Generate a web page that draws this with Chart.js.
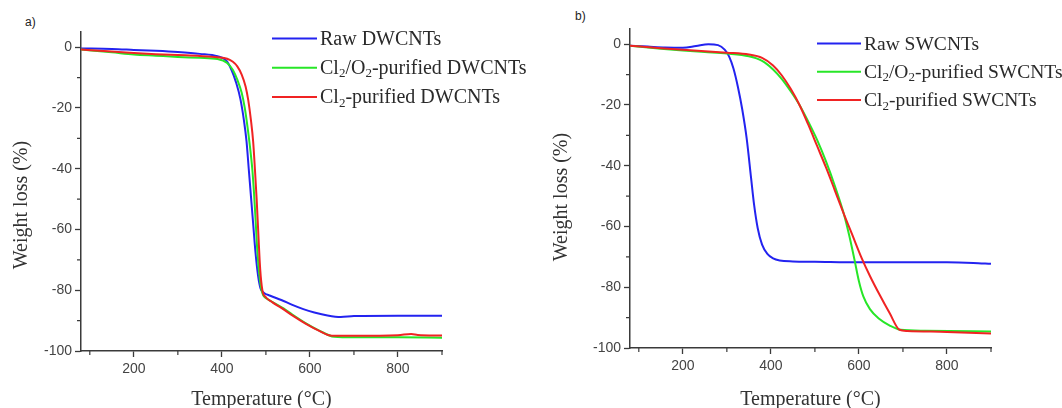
<!DOCTYPE html>
<html lang="en">
<head>
  <meta charset="UTF-8">
  <title>TGA curves</title>
  <script src="https://cdn.jsdelivr.net/npm/chart.js"></script>
  <style>
    body {
      margin: 0;
      background: #ffffff;
      width: 1062px;
      height: 408px;
      position: relative;
      overflow: hidden;
    }
    canvas {
      position: absolute;
      top: 0;
    }
    #chartA { left: 0; }
    #chartB { left: 531px; }
    .panel-label {
      position: absolute;
      font-family: 'Liberation Sans', Arial, sans-serif;
      font-size: 12px;
      color: #222;
    }
  </style>
</head>
<body>
  <div class="panel-label" style="left:25px; top:15px;">a)</div>
  <div class="panel-label" style="left:575px; top:9px;">b)</div>
  <canvas id="chartA" width="531" height="408"></canvas>
  <canvas id="chartB" width="531" height="408"></canvas>

  <script>
    // series labels
    const dwLabels = ['Raw DWCNTs', 'Cl₂/O₂-purified DWCNTs', 'Cl₂-purified DWCNTs'];
    const swLabels = ['Raw SWCNTs', 'Cl₂/O₂-purified SWCNTs', 'Cl₂-purified SWCNTs'];
    const colors = ['#2323f0', '#27e627', '#f02323'];

    // panel a) DWCNTs - temperature (°C) / weight loss (%)
    const dwRawT    = [80, 150, 200, 250, 300, 350, 390, 410, 422, 432, 442, 450, 456, 461, 466, 471, 476, 482, 488, 495, 510, 535, 560, 585, 610, 640, 670, 700, 800, 900];
    const dwRawLoss = [-0.4, -0.6, -0.9, -1.2, -1.6, -2.2, -3.0, -4.4, -7.5, -11.5, -17, -24, -31, -40, -49, -58, -67, -75, -79.5, -80.8, -81.8, -83.2, -84.8, -86.2, -87.3, -88.3, -88.8, -88.5, -88.4, -88.4];

    const dwClOT    = [80, 150, 200, 250, 300, 350, 390, 412, 425, 435, 445, 452, 458, 464, 469, 473, 477, 481, 486, 492, 505, 520, 540, 560, 590, 620, 655, 700, 800, 900];
    const dwClOLoss = [-0.8, -1.7, -2.4, -2.8, -3.2, -3.5, -3.9, -5.2, -7.5, -10.7, -15, -20, -26, -33, -40, -48, -58, -68, -76, -81, -83, -84.3, -86, -88, -90.8, -93.2, -95.3, -95.5, -95.5, -95.6];

    const dwClT    = [80, 150, 200, 250, 300, 350, 390, 412, 425, 435, 445, 454, 460, 466, 471, 475, 479, 483, 487, 492, 500, 515, 535, 560, 590, 620, 650, 700, 800, 830, 845, 900];
    const dwClLoss = [-0.8, -1.4, -1.9, -2.3, -2.6, -2.9, -3.3, -3.8, -4.8, -6.3, -9, -13, -17.5, -24, -31, -40, -50, -62, -73, -80, -82.3, -84, -85.8, -88.3, -91, -93.3, -95, -95, -94.8, -94.4, -94.7, -94.9];

    // panel b) SWCNTs
    const swRawT    = [80, 120, 160, 200, 230, 258, 280, 295, 305, 315, 325, 335, 345, 355, 362, 370, 380, 392, 405, 420, 450, 500, 600, 700, 800, 860, 900];
    const swRawLoss = [-0.5, -0.8, -1.1, -1.2, -0.6, 0, -0.3, -1.8, -4, -8, -14, -21.5, -31, -44, -53, -60.5, -66, -69, -70.5, -71.2, -71.5, -71.6, -71.8, -71.8, -71.8, -72, -72.3];

    const swClOT    = [80, 150, 200, 250, 300, 350, 380, 405, 425, 445, 465, 485, 505, 525, 545, 565, 578, 590, 600, 610, 625, 645, 670, 695, 750, 900];
    const swClOLoss = [-0.5, -1.5, -2.1, -2.6, -3.1, -4.0, -5.5, -8.3, -11.5, -15.5, -20, -25.5, -31.5, -38.5, -46.5, -55.5, -63, -71, -78, -83, -87.2, -90.3, -92.6, -94, -94.3, -94.6];

    const swClT    = [80, 150, 200, 250, 300, 350, 380, 405, 425, 445, 465, 485, 505, 525, 545, 565, 585, 605, 625, 647, 670, 692, 710, 800, 900];
    const swClLoss = [-0.5, -1.3, -1.8, -2.3, -2.8, -3.4, -4.5, -7, -10.3, -14.7, -20, -26.5, -33.5, -40.5, -48, -55.6, -62.8, -70, -76.3, -82.5, -88.6, -94, -94.4, -94.7, -95.2];

    const axisColor = '#3a3a3a';
    const serif = "'Liberation Serif', 'Times New Roman', serif";
    const sans = "'Liberation Sans', Arial, sans-serif";

    // short minor ticks between the labelled ones
    const minorTicks = {
      id: 'minorTicks',
      afterDraw(chart) {
        const ctx = chart.ctx;
        const xs = chart.scales.x, ys = chart.scales.y;
        ctx.save();
        ctx.strokeStyle = axisColor;
        ctx.lineWidth = 1.2;
        ctx.beginPath();
        xs.ticks.forEach(t => {
          if (t.value % 200 !== 0) {
            const px = xs.getPixelForValue(t.value);
            ctx.moveTo(px, xs.top);
            ctx.lineTo(px, xs.top + 4);
          }
        });
        ys.ticks.forEach(t => {
          if (t.value % 20 !== 0) {
            const py = ys.getPixelForValue(t.value);
            ctx.moveTo(ys.right, py);
            ctx.lineTo(ys.right - 4, py);
          }
        });
        ctx.stroke();
        ctx.restore();
      }
    };

    // y axis title, placed a little below the axis centre as in the figure
    const yTitle = {
      id: 'yTitle',
      afterDraw(chart, args, opts) {
        const ctx = chart.ctx;
        ctx.save();
        ctx.translate(opts.x, opts.y);
        ctx.rotate(-Math.PI / 2);
        ctx.font = '20px ' + serif;
        ctx.fillStyle = '#333';
        ctx.textAlign = 'center';
        ctx.textBaseline = 'middle';
        ctx.fillText(opts.text, 0, 0);
        ctx.restore();
      }
    };

    // legend inside the plot, with subscript 2
    const inLegend = {
      id: 'inLegend',
      afterDraw(chart, args, opts) {
        const ctx = chart.ctx;
        ctx.save();
        ctx.textBaseline = 'middle';
        ctx.fillStyle = '#2a2a2a';
        chart.data.datasets.forEach((ds, i) => {
          const yy = opts.y + i * opts.step;
          ctx.strokeStyle = ds.borderColor;
          ctx.lineWidth = 2;
          ctx.beginPath();
          ctx.moveTo(opts.x, yy);
          ctx.lineTo(opts.x + opts.len, yy);
          ctx.stroke();
          let tx = opts.x + opts.len + 3;
          ds.label.split(/(₂)/).forEach(part => {
            if (!part) return;
            if (part === '₂') {
              ctx.font = '13px ' + serif;
              ctx.fillText('2', tx, yy + 6);
              tx += ctx.measureText('2').width;
            } else {
              ctx.font = opts.size + 'px ' + serif;
              ctx.fillText(part, tx, yy + 1);
              tx += ctx.measureText(part).width;
            }
          });
        });
        ctx.restore();
      }
    };

    function toPoints(xs, ys) {
      return xs.map((x, i) => ({ x: x, y: ys[i] }));
    }

    function makeChart(id, labels, series, cfg) {
      const datasets = series.map((s, i) => ({
        label: labels[i],
        data: toPoints(s[0], s[1]),
        borderColor: colors[i],
        borderWidth: 2,
        pointRadius: 0,
        cubicInterpolationMode: 'monotone',
        order: 2 - i
      }));

      return new Chart(document.getElementById(id), {
        type: 'line',
        data: { datasets: datasets },
        plugins: [minorTicks, inLegend, yTitle],
        options: {
          responsive: false,
          animation: false,
          layout: { padding: { left: 0, top: cfg.top, right: cfg.right, bottom: 0 } },
          plugins: {
            legend: { display: false },
            tooltip: { enabled: false },
            inLegend: cfg.legend,
            yTitle: { text: 'Weight loss (%)', x: cfg.yTitleX, y: cfg.yTitleY }
          },
          scales: {
            x: {
              type: 'linear',
              min: 80,
              max: 900,
              afterFit: s => { s.height = cfg.xHeight; },
              border: { color: axisColor, width: 1.5 },
              grid: {
                drawOnChartArea: false,
                tickLength: 6,
                tickWidth: 1.3,
                tickColor: c => (c.tick && c.tick.value % 200 === 0) ? axisColor : 'rgba(0,0,0,0)'
              },
              ticks: {
                stepSize: 100,
                includeBounds: false,
                autoSkip: false,
                maxRotation: 0,
                padding: 4,
                color: '#444',
                font: { family: sans, size: 14 },
                callback: v => (v % 200 === 0) ? String(v) : ''
              },
              title: {
                display: true,
                text: 'Temperature (°C)',
                color: '#333',
                font: { family: serif, size: 20, lineHeight: 1 },
                padding: { top: 0, bottom: -2 }
              }
            },
            y: {
              min: -100,
              max: 5,
              afterFit: s => { s.width = cfg.yWidth; },
              border: { color: axisColor, width: 1.5 },
              grid: {
                drawOnChartArea: false,
                tickLength: 6,
                tickWidth: 1.3,
                tickColor: c => (c.tick && c.tick.value % 20 === 0) ? axisColor : 'rgba(0,0,0,0)'
              },
              ticks: {
                stepSize: 10,
                includeBounds: false,
                autoSkip: false,
                padding: 3,
                color: '#444',
                font: { family: sans, size: 14 },
                callback: v => (v % 20 === 0) ? String(v) : ''
              },
              title: { display: false }
            }
          }
        }
      });
    }

    makeChart('chartA', dwLabels,
      [[dwRawT, dwRawLoss], [dwClOT, dwClOLoss], [dwClT, dwClLoss]],
      { top: 32, right: 89, xHeight: 57, yWidth: 81, yTitleX: 22, yTitleY: 205,
        legend: { x: 272, y: 38.5, step: 29.3, len: 45, size: 20 } });

    makeChart('chartB', swLabels,
      [[swRawT, swRawLoss], [swClOT, swClOLoss], [swClT, swClLoss]],
      { top: 29, right: 71, xHeight: 60, yWidth: 99, yTitleX: 31, yTitleY: 197,
        legend: { x: 286, y: 43.5, step: 28.3, len: 44, size: 19.5 } });
  </script>
</body>
</html>
